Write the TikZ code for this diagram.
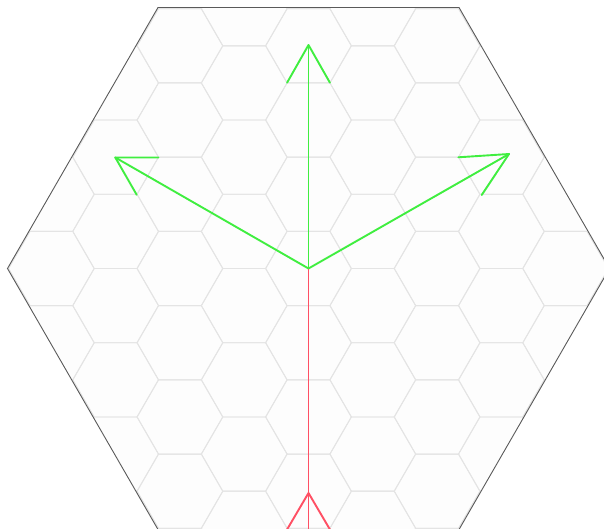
\documentclass[tikz,border=0pt]{standalone}
\definecolor{gridgray}{RGB}{228,228,228}
\definecolor{outlinegray}{RGB}{90,90,90}
\definecolor{insidefill}{RGB}{253,253,253}
\definecolor{arrowgreen}{RGB}{64,238,64}
\definecolor{arrowred}{RGB}{255,80,100}
\begin{document}
\begin{tikzpicture}[x=1pt,y=-1pt,
  gridline/.style={draw=gridgray,line width=0.9pt},
  outline/.style={draw=outlinegray,line width=0.9pt},
  greenline/.style={draw=arrowgreen,line width=1.9pt,line join=round,line cap=round},
  redline/.style={draw=arrowred,line width=1.9pt,line join=round}]
\useasboundingbox (0,0) rectangle (604,529);
\def\cx{308.5}\def\cy{268.5}\def\s{42.86}\def\h{74.23}
\coordinate (O) at (\cx,\cy);
\coordinate (B1) at (\cx+301,\cy);
\coordinate (B2) at (\cx+150.5,\cy-261);
\coordinate (B3) at (\cx-150.5,\cy-261);
\coordinate (B4) at (\cx-301,\cy);
\coordinate (B5) at (\cx-150.5,\cy+261);
\coordinate (B6) at (\cx+150.5,\cy+261);
\fill[insidefill] (B1) -- (B2) -- (B3) -- (B4) -- (B5) -- (B6) -- cycle;
\begin{scope}
\clip (B1) -- (B2) -- (B3) -- (B4) -- (B5) -- (B6) -- cycle;
\foreach \i in {-7,...,7}{
  \foreach \j in {-5,...,5}{
    \pgfmathsetmacro\xx{\cx+1.5*\s*\i}
    \pgfmathsetmacro\yy{\cy+\h*(\j+0.5*mod(abs(\i),2))}
    \draw[gridline] (\xx,\yy) +(0:\s) -- +(60:\s) -- +(120:\s) -- +(180:\s) -- +(240:\s) -- +(300:\s) -- cycle;
  }
}
\end{scope}
\draw[outline] (B1) -- (B2) -- (B3) -- (B4) -- (B5) -- (B6) -- cycle;
% green arrows
\coordinate (T1) at (\cx,45);
\coordinate (T1a) at (\cx-0.5*\s,82.7);
\coordinate (T1b) at (\cx+0.5*\s,82.7);
\coordinate (T2) at (115.3,157.5);
\coordinate (T2a) at (158.3,157.5);
\coordinate (T2b) at (136.7,194.8);
\coordinate (T3) at (509,154);
\coordinate (T3a) at (458.3,157.3);
\coordinate (T3b) at (481.7,195);
\draw[greenline] (O) -- (T1);
\draw[greenline] (T1a) -- (T1) -- (T1b);
\draw[greenline] (O) -- (T2);
\draw[greenline] (T2a) -- (T2) -- (T2b);
\draw[greenline] (O) -- (T3);
\draw[greenline] (T3a) -- (T3) -- (T3b);
% red arrow
\coordinate (R) at (\cx,493);
\coordinate (Rend) at (\cx,532);
\coordinate (Ra) at (\cx-0.5*\s-1.5,532);
\coordinate (Rb) at (\cx+0.5*\s+1.5,532);
\draw[redline] (O) -- (Rend);
\draw[redline] (Ra) -- (R) -- (Rb);
\end{tikzpicture}
\end{document}
